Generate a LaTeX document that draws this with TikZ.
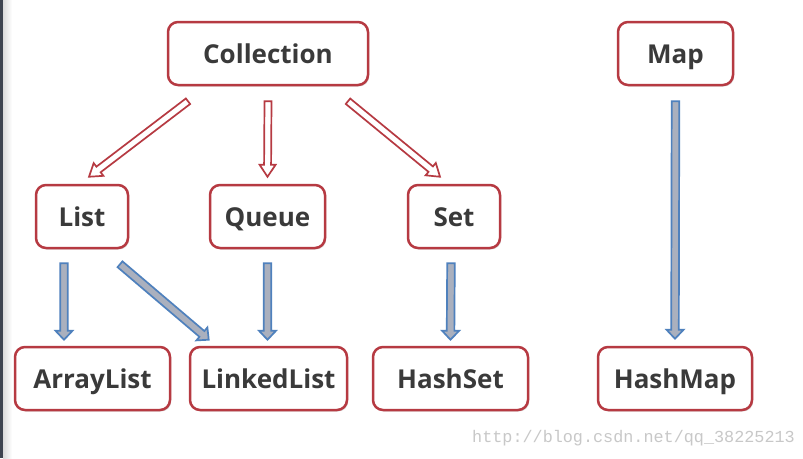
\documentclass[tikz,border=0pt]{standalone}
\usepackage{fontspec}
\setmainfont{Open Sans}
\setmonofont{Liberation Mono}
\usetikzlibrary{calc}
\usetikzlibrary{shadows}
\definecolor{boxred}{RGB}{182,58,66}
\definecolor{arrowblue}{RGB}{79,129,189}
\definecolor{arrowgray}{RGB}{170,176,190}
\definecolor{textgray}{RGB}{58,58,58}
\definecolor{markgray}{RGB}{200,200,200}
\definecolor{edgegray}{RGB}{62,68,80}
\newcommand{\boxheight}{63pt}
\tikzset{
    common/.style={draw=boxred, line width=2.5pt, fill=white, rounded corners=10pt,
        minimum height=\boxheight, inner sep=0pt, text=textgray,
        text height=20pt, text depth=0pt,
        font=\fontsize{26}{26}\selectfont\bfseries,
        drop shadow={opacity=0.25, shadow xshift=1.2pt, shadow yshift=-1.5pt}},
    cls/.style={common, minimum width=#1},
    blockarrow/.style n args={3}{to path={
        let \p1=(\tikztostart), \p2=(\tikztotarget), \n1={atan2(\y2-\y1,\x2-\x1)} in
        ($(\p1)+(\n1+90:#1)$) -- ($(\p2)+(\n1+180:#3)+(\n1+90:#1)$)
        -- ($(\p2)+(\n1+180:#3)+(\n1+90:#2)$) -- (\p2)
        -- ($(\p2)+(\n1+180:#3)+(\n1-90:#2)$) -- ($(\p2)+(\n1+180:#3)+(\n1-90:#1)$)
        -- ($(\p1)+(\n1-90:#1)$) -- cycle}},
    inherit/.style={draw=boxred, fill=white, line width=1.7pt, line join=miter, blockarrow={3.5pt}{8pt}{12pt}},
    impl/.style={draw=arrowblue, fill=arrowgray, line width=1.7pt, line join=miter, blockarrow={3.8pt}{8.5pt}{9pt}}
}
\begin{document}
\begin{tikzpicture}[x=1pt, y=-1pt]
        \useasboundingbox (0,0) rectangle (803,458);
        \fill[white] (0,0) rectangle (803,458);
        \shade[left color=black!14, right color=white] (3,0) rectangle (12,458);
        \fill[edgegray] (0,0) rectangle (3,458);

        \node[cls=200pt] (coll) at (268,53.5) {Collection};
        \node[cls=115pt] (map) at (675.5,53.5) {Map};
        \node[cls=92pt] (list) at (82,216.5) {List};
        \node[cls=115pt] (queue) at (267.5,216.5) {Queue};
        \node[cls=92pt] (set) at (454,216.5) {Set};
        \node[cls=155pt] (arraylist) at (92.5,378.5) {ArrayList};
        \node[cls=157pt] (linkedlist) at (268.5,378.5) {LinkedList};
        \node[cls=155pt] (hashset) at (450.5,378.5) {HashSet};
        \node[cls=154pt] (hashmap) at (675,378.5) {HashMap};

        \node[anchor=east, inner sep=0pt, text=markgray, font=\ttfamily\fontsize{16.8}{17}\selectfont] (mark) at (795,438) {http://blog.csdn.net/qq\_38225213};

        \draw[inherit] ([xshift=-80pt, yshift=-15pt]coll.south) to ([xshift=7pt, yshift=7pt]list.north);
        \draw[inherit] ([yshift=-15pt]coll.south) to ([yshift=7pt]queue.north);
        \draw[inherit] ([xshift=80pt, yshift=-15pt]coll.south) to ([xshift=-14pt, yshift=7pt]set.north);
        \draw[impl] ([yshift=-15pt]map.south) to ([yshift=7pt]hashmap.north);
        \draw[impl] ([xshift=-18pt, yshift=-14pt]list.south) to ([xshift=-28.5pt, yshift=6pt]arraylist.north);
        \draw[impl] ([xshift=38pt, yshift=-15pt]list.south) to ([xshift=20pt, yshift=6pt]linkedlist.north west);
        \draw[impl] ([yshift=-14pt]queue.south) to ([xshift=-1pt, yshift=6pt]linkedlist.north);
        \draw[impl] ([xshift=-3pt, yshift=-14pt]set.south) to ([yshift=6pt]hashset.north);
    \end{tikzpicture}
\end{document}
